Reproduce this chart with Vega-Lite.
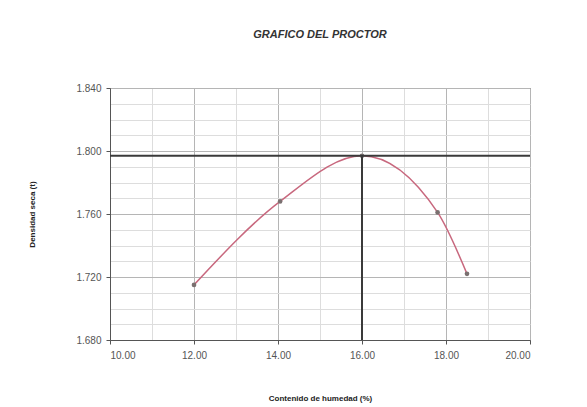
{
  "$schema": "https://vega.github.io/schema/vega-lite/v6.json",
  "width": 420,
  "height": 252,
  "autosize": {"type": "none"},
  "padding": {"left": 110, "top": 88, "right": 57, "bottom": 67},
  "background": "white",
  "title": {
    "text": "GRAFICO DEL PROCTOR",
    "font": "Liberation Sans",
    "fontSize": 11,
    "fontStyle": "italic",
    "fontWeight": "bold",
    "color": "#333333",
    "anchor": "middle",
    "offset": 43
  },
  "datasets": {
    "puntos": [
      {"humedad": 12.0, "densidad": 1.715},
      {"humedad": 14.05, "densidad": 1.768},
      {"humedad": 16.0, "densidad": 1.797},
      {"humedad": 17.8, "densidad": 1.761},
      {"humedad": 18.5, "densidad": 1.722}
    ],
    "optimo": [
      {"humedad": 16.0, "densidad": 1.797, "base": 1.68}
    ]
  },
  "config": {
    "view": {"stroke": "#555555", "strokeWidth": 1},
    "axis": {
      "labelFont": "Liberation Sans",
      "titleFont": "Liberation Sans",
      "labelFontSize": 10,
      "titleFontSize": 8,
      "labelColor": "#555555",
      "titleColor": "#222222",
      "domainColor": "#555555",
      "tickColor": "#555555",
      "gridWidth": 1,
      "grid": true
    }
  },
  "encoding": {
    "x": {
      "field": "humedad",
      "type": "quantitative",
      "scale": {"domain": [10, 20], "nice": false, "zero": false},
      "axis": {
        "title": "Contenido de humedad (%)",
        "tickCount": 10,
        "labelExpr": "(round(datum.value) % 2 == 0) ? format(datum.value, '.2f') : ''",
        "tickOpacity": {"condition": {"test": "round(datum.value) % 2 != 0", "value": 0}, "value": 1},
        "gridColor": {"condition": {"test": "round(datum.value) % 2 != 0", "value": "#dddddd"}, "value": "#b5b5b5"},
        "tickSize": 4,
        "labelPadding": 6,
        "titleY": 54
      }
    },
    "y": {
      "field": "densidad",
      "type": "quantitative",
      "scale": {"domain": [1.68, 1.84], "nice": false, "zero": false},
      "axis": {
        "title": "Densidad seca (t)",
        "tickCount": 16,
        "labelExpr": "(round(datum.value * 100) % 4 == 0) ? format(datum.value, '.3f') : ''",
        "tickOpacity": {"condition": {"test": "round(datum.value * 100) % 4 != 0", "value": 0}, "value": 1},
        "gridColor": {"condition": {"test": "round(datum.value * 100) % 4 != 0", "value": "#dddddd"}, "value": "#b5b5b5"},
        "tickSize": 4,
        "labelPadding": 5,
        "labelOverlap": false,
        "titleX": -74,
        "titleY": 126
      }
    }
  },
  "layer": [
    {
      "data": {"name": "puntos"},
      "mark": {"type": "line", "interpolate": "monotone", "color": "#c8687e", "strokeWidth": 1.5}
    },
    {
      "data": {"name": "puntos"},
      "mark": {"type": "point", "filled": true, "color": "#7a7070", "size": 22, "opacity": 1}
    },
    {
      "data": {"name": "optimo"},
      "mark": {"type": "rule", "color": "#3a3a3a", "strokeWidth": 2},
      "encoding": {
        "x": null,
        "y": {"field": "densidad", "type": "quantitative"}
      }
    },
    {
      "data": {"name": "optimo"},
      "mark": {"type": "rule", "color": "#3a3a3a", "strokeWidth": 2},
      "encoding": {
        "y2": {"field": "base"}
      }
    }
  ]
}
